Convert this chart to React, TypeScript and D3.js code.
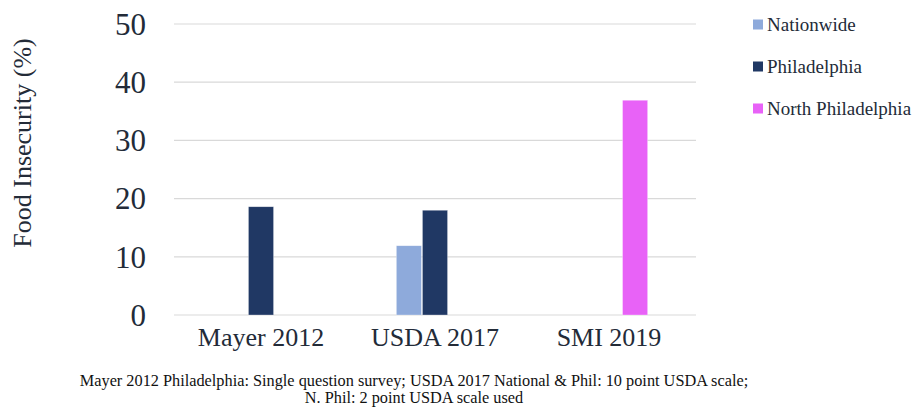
import * as d3 from 'd3';

const W = 917;
const H = 408;

const categories = ['Mayer 2012', 'USDA 2017', 'SMI 2019'];
const seriesNames = ['Nationwide', 'Philadelphia', 'North Philadelphia'];
const seriesColors = ['#8eaadb', '#203864', '#e862f7'];
// null = no bar for that category
const nationwide = [null, 11.9, null];
const philadelphia = [18.6, 18.0, null];
const northPhiladelphia = [null, null, 36.9];
const yTicks = [0, 10, 20, 30, 40, 50];
const footnote = [
  'Mayer 2012 Philadelphia: Single question survey; USDA 2017 National & Phil: 10 point USDA scale;',
  'N. Phil: 2 point USDA scale used',
];

const plot = { left: 174, right: 696, top: 24, bottom: 315 };
const font = "'Liberation Serif', 'Times New Roman', serif";
const ink = '#232b38';
const txt = { fontFamily: font };

export default function App() {
  const seriesValues = [nationwide, philadelphia, northPhiladelphia];

  const x0 = d3
    .scaleBand<string>()
    .domain(categories)
    .range([plot.left, plot.right])
    .padding(0);
  const groupW = x0.bandwidth() * 0.45;
  const x1 = d3
    .scaleBand<string>()
    .domain(seriesNames)
    .range([(x0.bandwidth() - groupW) / 2, (x0.bandwidth() + groupW) / 2])
    .padding(0);
  const y = d3.scaleLinear().domain([0, 50]).range([plot.bottom, plot.top]);

  return (
    <svg
      width={W}
      height={H}
      style={{ position: 'absolute', left: 0, top: 0, background: '#fff', fontFamily: font }}
    >
      {/* grid */}
      <g>
        {yTicks.map((t) => (
          <line
            key={t}
            x1={plot.left}
            x2={plot.right}
            y1={y(t)}
            y2={y(t)}
            stroke="#d9d9d9"
            strokeWidth={1.2}
          />
        ))}
      </g>
      <g fill={ink} textAnchor="end">
        {yTicks.map((t) => (
          <text key={t} x={146} y={y(t)} dy="0.35em" style={{ ...txt, fontSize: 31 }}>
            {t}
          </text>
        ))}
      </g>
      <text
        transform={`translate(31, ${143}) rotate(-90)`}
        textAnchor="middle"
        fill={ink}
        style={{ ...txt, fontSize: 26 }}
      >
        Food Insecurity (%)
      </text>

      {/* bars */}
      {categories.map((c, ci) => (
        <g key={c} transform={`translate(${x0(c)},0)`}>
          {seriesNames.map((s, si) => {
            const v = seriesValues[si][ci];
            if (v == null) return null;
            return (
              <rect
                key={s}
                x={x1(s)! + 0.5}
                width={x1.bandwidth() - 1}
                y={y(v)}
                height={y(0) - y(v)}
                fill={seriesColors[si]}
                stroke="#ffffff"
                strokeOpacity={0.5}
                strokeWidth={0.6}
              />
            );
          })}
        </g>
      ))}

      <g fill={ink} textAnchor="middle">
        {categories.map((c) => (
          <text key={c} x={x0(c)! + x0.bandwidth() / 2} y={346} style={{ ...txt, fontSize: 26 }}>
            {c}
          </text>
        ))}
      </g>

      {/* legend */}
      <g>
        {seriesNames.map((s, i) => (
          <g key={s} transform={`translate(753, ${24.5 + i * 42})`}>
            <rect x={0} y={-5} width={10} height={10} fill={seriesColors[i]} />
            <text x={14} y={0} dy="0.33em" fill={ink} style={{ ...txt, fontSize: 19 }}>
              {s}
            </text>
          </g>
        ))}
      </g>

      {/* footnote */}
      <g fill="#111" textAnchor="middle">
        {footnote.map((l, i) => (
          <text key={i} x={414} y={386 + i * 17} style={{ ...txt, fontSize: 16.3 }}>
            {l}
          </text>
        ))}
      </g>
    </svg>
  );
}
